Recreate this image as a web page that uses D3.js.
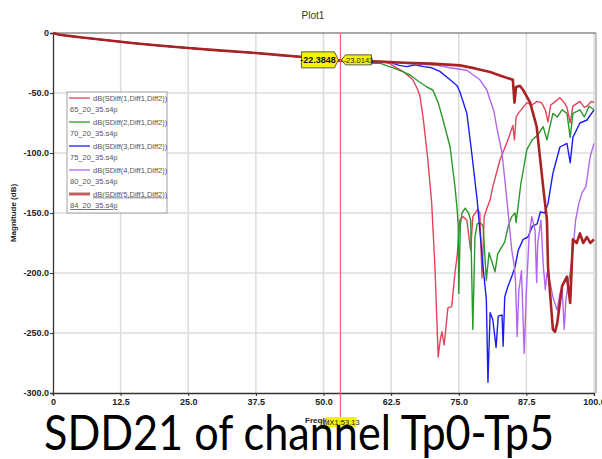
<!DOCTYPE html>
<html>
<head>
<meta charset="utf-8">
<script src="https://cdn.jsdelivr.net/npm/d3@7"></script>
<style>
  body { margin: 0; background: #fff; }
  svg { display: block; }
</style>
</head>
<body>
<svg id="chart" width="602" height="459"></svg>
<script>
// ---- data -------------------------------------------------------------
const freqTicks = [0, 12.5, 25, 37.5, 50, 62.5, 75, 87.5, 100];
const magTicks = [0, -50, -100, -150, -200, -250, -300];

const traceNames = [
  "dB(SDiff(1,Diff1,Diff2))",
  "dB(SDiff(2,Diff1,Diff2))",
  "dB(SDiff(3,Diff1,Diff2))",
  "dB(SDiff(4,Diff1,Diff2))",
  "dB(SDiff(5,Diff1,Diff2))"
];
const fileNames = ["65_20_35.s4p", "70_20_35.s4p", "75_20_35.s4p", "80_20_35.s4p", "84_20_35.s4p"];
const traceColors = ["#e6405a", "#2b982b", "#1c1cf2", "#b266ee", "#a82424"];
const legendColors = ["#e6405a", "#2b982b", "#1c1cf2", "#b266ee", "#c06060"];

// shared insertion-loss slope below the marker (GHz, dB)
const lowBand = [
  [0, 0], [1, -1.2], [2.5, -2.2], [5, -3.6], [7.5, -4.8], [10, -6], [12.5, -7.3],
  [15, -8.5], [20, -10.6], [25, -12.5], [30, -14.3], [37.5, -16.7], [42, -18.4],
  [45, -19.6], [50, -21.3]
];

const sdd65 = [
  [53.13, -22.38], [55, -23], [57, -23.5], [59, -24.5], [60.5, -24], [62.3, -25.5],
  [63.5, -29], [64.7, -32], [65.5, -35], [66.5, -39], [67.3, -46], [67.8, -52],
  [68.4, -70], [69.3, -106], [70, -142], [70.6, -195], [71.2, -270], [71.6, -255],
  [71.9, -249], [72.3, -260], [73, -229], [73.7, -228], [74.3, -200], [74.7, -186],
  [75.2, -156], [75.8, -153], [76.5, -156], [77.2, -181], [77.6, -153], [78.5, -147],
  [78.9, -150], [79.3, -204], [79.7, -153], [80.3, -145], [80.8, -139], [81.3, -128],
  [82.6, -106], [84.1, -89], [85, -77], [85.3, -89], [85.6, -70], [86, -67],
  [87.6, -58], [88.5, -60], [89.5, -57], [90.3, -58], [91, -64], [91.5, -74],
  [92, -60], [92.6, -58], [93.7, -54], [94.5, -58], [95, -62], [95.6, -75],
  [96.1, -61], [97.4, -57], [98.2, -62], [98.7, -61], [99.5, -57], [100, -58]
];

const sdd70 = [
  [53.13, -22.6], [55, -23.3], [57, -24], [58.5, -25.5], [60.4, -25], [61.5, -27],
  [62.9, -29], [64.5, -32], [66, -35], [67.5, -40], [69.1, -45], [70.2, -47.5],
  [71.2, -58], [72.1, -72.5], [73.4, -95], [74.3, -128], [74.7, -147], [74.9, -160],
  [75.0, -217], [75.3, -160], [75.6, -150], [76.2, -146], [76.8, -150], [77.2, -156],
  [77.6, -247], [78, -170], [78.4, -159], [79, -158], [79.5, -161], [80.1, -206],
  [80.6, -183], [81.7, -199], [82.2, -184], [83.5, -174], [84.2, -160], [84.8, -153],
  [85.4, -150], [85.6, -158], [86.5, -125], [87.6, -97], [88.6, -89], [89.6, -85],
  [90.6, -78], [91.3, -89], [92.4, -67], [93.2, -70], [94.1, -64], [95, -67],
  [95.6, -87], [96.1, -67], [97.4, -64], [98.2, -70], [99.1, -61], [100, -64]
];

const sdd75 = [
  [53.13, -22.8], [55, -23.5], [58, -24], [60, -24.5], [62.3, -24.5], [64, -27],
  [65.4, -28], [67, -26.5], [68.5, -28], [70, -29], [71.5, -32], [73.4, -39],
  [74.7, -44], [75.2, -49], [76.5, -67], [77.4, -100], [78.4, -139], [79.5, -195],
  [80.1, -222], [80.4, -291], [80.8, -233], [81.3, -239], [81.9, -262], [82.3, -236],
  [83, -235], [83.2, -261], [83.5, -220], [84.1, -211], [84.8, -203], [85.4, -195],
  [86, -181], [86.9, -172], [87.8, -170], [88.6, -161], [89.5, -159], [90.1, -149],
  [90.9, -150], [91.5, -142], [92.4, -117], [93.7, -95], [95, -92], [95.6, -108],
  [96.1, -87], [97.4, -75], [98.7, -72.5], [100, -64]
];

const sdd80 = [
  [53.13, -22.9], [56, -23.3], [60, -24], [64, -25], [68, -26], [71, -27],
  [73.4, -29], [76.5, -31], [78.9, -39], [80.2, -47.5], [80.8, -56], [81.5, -65],
  [82, -78], [83, -100], [83.9, -139], [84.8, -181], [85.3, -195], [85.5, -208],
  [85.8, -253], [86.1, -215], [86.6, -198], [87.1, -267], [87.5, -215], [88, -170],
  [88.5, -153], [89.1, -164], [89.4, -208], [89.6, -175], [90.2, -156], [90.6, -192],
  [91, -214], [91.3, -200], [91.9, -208], [92.4, -220], [93.2, -231], [93.7, -217],
  [94.1, -212], [94.5, -247], [94.8, -222], [95.6, -199], [96.1, -181], [96.6, -156],
  [97.2, -142], [97.8, -133], [98.5, -128], [99.3, -103], [100, -92]
];

const sdd84 = [
  [53.13, -23.01], [56, -23.2], [60.4, -23.8], [65, -24.8], [70, -25.5], [75.2, -27],
  [78, -29.5], [80.8, -32.5], [83, -36], [85, -39], [85.3, -58], [85.6, -45],
  [86.3, -44], [86.9, -47.5], [88.2, -58], [89.4, -78], [90.6, -128], [91.3, -156],
  [91.5, -195], [92.4, -247], [92.8, -249], [93.2, -242], [94.1, -211], [95, -203],
  [95.6, -225], [96.1, -172], [96.8, -175], [97.4, -167], [98, -175], [98.7, -170],
  [99.3, -175], [100, -172]
];

const markerFreq = 53.13;
const markerValues = [-22.3848, -23.0143];

// ---- layout ------------------------------------------------------------
const svg = d3.select("#chart");
const plot = { left: 53, right: 594, top: 33, bottom: 393 };

const x = d3.scaleLinear().domain([0, 100]).range([plot.left, plot.right]);
const y = d3.scaleLinear().domain([-300, 0]).range([plot.bottom, plot.top]);

const tickFont = "'Liberation Sans Narrow', 'Liberation Sans', Arial, sans-serif";

// grid
const grid = svg.append("g").attr("stroke", "#dcdcdc").attr("stroke-width", 1.5);
grid.selectAll("line.v").data(freqTicks.slice(1)).join("line")
  .attr("x1", d => x(d)).attr("x2", d => x(d))
  .attr("y1", plot.top).attr("y2", plot.bottom);
grid.selectAll("line.h").data(magTicks.slice(1, -1)).join("line")
  .attr("x1", plot.left).attr("x2", plot.right)
  .attr("y1", d => y(d)).attr("y2", d => y(d));

// frame
svg.append("line").attr("x1", plot.left).attr("x2", plot.right + 2)
  .attr("y1", plot.top).attr("y2", plot.top).attr("stroke", "#555").attr("stroke-width", 1.2);
svg.append("line").attr("x1", plot.right + 2).attr("x2", plot.right + 2)
  .attr("y1", plot.top).attr("y2", plot.bottom).attr("stroke", "#9a9a9a").attr("stroke-width", 1.2);

// axes
const fmt = d => d === 0 ? "0" : d.toFixed(1);
const yAxis = svg.append("g").attr("transform", `translate(${plot.left},0)`)
  .call(d3.axisLeft(y).tickValues(magTicks).tickFormat(fmt).tickSize(3).tickPadding(1));
const xAxis = svg.append("g").attr("transform", `translate(0,${plot.bottom})`)
  .call(d3.axisBottom(x).tickValues(freqTicks).tickFormat(fmt).tickSize(3).tickPadding(3));
[yAxis, xAxis].forEach(a => {
  a.select(".domain").attr("stroke", "#333").attr("stroke-width", 1.3);
  a.selectAll(".tick line").attr("stroke", "#333");
  a.selectAll("text").attr("font-family", tickFont).attr("font-weight", "bold")
    .attr("font-size", 9).attr("fill", "#222");
});

// titles
svg.append("text").attr("x", 313).attr("y", 19).attr("text-anchor", "middle")
  .attr("font-family", "Arial, 'Liberation Sans', sans-serif").attr("font-size", 10).attr("fill", "#333")
  .text("Plot1");
svg.append("text").attr("transform", `translate(16,${(plot.top + plot.bottom) / 2}) rotate(-90)`)
  .attr("text-anchor", "middle").attr("font-family", tickFont).attr("font-weight", "bold")
  .attr("font-size", 8).attr("fill", "#222").text("Magnitude (dB)");
svg.append("text").attr("x", 305).attr("y", 423)
  .attr("font-family", tickFont).attr("font-weight", "bold")
  .attr("font-size", 8).attr("fill", "#222").text("Freq(GHz)");

// traces
svg.append("clipPath").attr("id", "plotClip").append("rect")
  .attr("x", plot.left).attr("y", plot.top - 2)
  .attr("width", plot.right - plot.left + 1).attr("height", plot.bottom - plot.top + 2);

const traces = [sdd65, sdd70, sdd75, sdd80, sdd84];
const line = d3.line().x(d => x(d[0])).y(d => y(d[1]));
const traceG = svg.append("g").attr("clip-path", "url(#plotClip)").attr("fill", "none")
  .attr("stroke-linejoin", "round");
traces.forEach((pts, i) => {
  traceG.append("path")
    .datum(lowBand.concat(pts))
    .attr("d", line)
    .attr("stroke", traceColors[i])
    .attr("stroke-width", i === 4 ? 2.6 : 1.4);
});

// legend
const lg = svg.append("g").attr("transform", "translate(67,92)");
lg.append("rect").attr("width", 100).attr("height", 121)
  .attr("fill", "#fff").attr("stroke", "#a0a0a0").attr("stroke-width", 1);
traceNames.forEach((name, i) => {
  const oy = 6 + i * 24;
  lg.append("line").attr("x1", 2).attr("x2", 23).attr("y1", oy).attr("y2", oy)
    .attr("stroke", legendColors[i]).attr("stroke-width", i === 4 ? 3 : 1.3);
  const t1 = lg.append("text").attr("x", 26).attr("y", oy + 2.5)
    .attr("font-family", tickFont).attr("font-size", 7.5).attr("fill", "#555").text(name);
  const t2 = lg.append("text").attr("x", 3).attr("y", oy + 14)
    .attr("font-family", tickFont).attr("font-size", 7.5).attr("fill", "#555").text(fileNames[i]);
  if (i === 4) { t1.attr("text-decoration", "underline"); t2.attr("text-decoration", "underline"); }
});

// marker
const mx = x(markerFreq);
svg.append("line").attr("x1", mx).attr("x2", mx).attr("y1", plot.top).attr("y2", 421)
  .attr("stroke", "#f06070").attr("stroke-width", 1.2);

const my = y(markerValues[0]);
// left value tag (points right at the marker)
svg.append("path")
  .attr("d", `M${mx - 2},${my} L${mx - 6},${my - 8} L${mx - 39},${my - 8} L${mx - 39},${my + 8} L${mx - 6},${my + 8} Z`)
  .attr("fill", "#f4f400").attr("stroke", "#333").attr("stroke-width", 0.8);
svg.append("text").attr("x", mx - 22.5).attr("y", my + 3.5).attr("text-anchor", "middle")
  .attr("font-family", tickFont).attr("font-weight", "bold").attr("font-size", 9).attr("fill", "#111")
  .text(markerValues[0].toFixed(4));
// right value tag (points left at the marker)
svg.append("path")
  .attr("d", `M${mx + 1},${my} L${mx + 5},${my - 5} L${mx + 31},${my - 5} L${mx + 31},${my + 5} L${mx + 5},${my + 5} Z`)
  .attr("fill", "#f4f400").attr("stroke", "#333").attr("stroke-width", 0.8);
svg.append("text").attr("x", mx + 18).attr("y", my + 3).attr("text-anchor", "middle")
  .attr("font-family", tickFont).attr("font-size", 7.5).attr("fill", "#222")
  .text(markerValues[1].toFixed(4));
// frequency tag under the axis
svg.append("rect").attr("x", mx - 14).attr("y", 417).attr("width", 30).attr("height", 10)
  .attr("fill", "#f4f400");
svg.append("text").attr("x", mx + 1).attr("y", 425).attr("text-anchor", "middle")
  .attr("font-family", tickFont).attr("font-size", 7.5).attr("fill", "#222")
  .text("MX1:" + markerFreq.toFixed(2));

// caption
svg.append("text").attr("x", 299).attr("y", 450).attr("text-anchor", "middle")
  .attr("font-family", "Lato, 'Open Sans', sans-serif").attr("font-size", 48).attr("fill", "#000")
  .attr("textLength", 510).attr("lengthAdjust", "spacingAndGlyphs")
  .text("SDD21 of channel Tp0-Tp5");
</script>
</body>
</html>
